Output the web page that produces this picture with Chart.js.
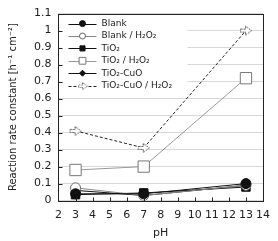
<!DOCTYPE html>
<html>
<head>
<meta charset="utf-8">
<script src="https://cdn.jsdelivr.net/npm/chart.js@4"></script>
<style>
  html, body { margin: 0; padding: 0; background: #fff; }
  #wrap { width: 278px; height: 241px; }
</style>
</head>
<body>
<div id="wrap"><canvas id="rateChart" width="278" height="241"></canvas></div>
<script>
const phValues = [3, 7, 13];
const seriesNames = ['Blank', 'Blank / H₂O₂', 'TiO₂', 'TiO₂ / H₂O₂', 'TiO₂-CuO', 'TiO₂-CuO / H₂O₂'];
const blank = [0.04, 0.04, 0.10];
const blankH2O2 = [0.075, 0.03, 0.09];
const tio2 = [0.035, 0.045, 0.08];
const tio2H2O2 = [0.18, 0.20, 0.72];
const tio2CuO = [0.06, 0.03, 0.09];
const tio2CuOH2O2 = [0.41, 0.31, 1.0];
const xTicks = [2, 3, 4, 5, 6, 7, 8, 9, 10, 11, 12, 13, 14];
const yTicks = [0, 0.1, 0.2, 0.3, 0.4, 0.5, 0.6, 0.7, 0.8, 0.9, 1, 1.1];

const pts = vals => vals.map((v, i) => ({ x: phValues[i], y: v }));

// hollow arrow marker for the last series
const arrow = document.createElement('canvas');
arrow.width = 14; arrow.height = 12;
(() => {
  const c = arrow.getContext('2d');
  c.fillStyle = '#fff';
  c.strokeStyle = '#555';
  c.lineWidth = 1;
  c.setLineDash([2, 1]);
  c.beginPath();
  c.moveTo(1.5, 4.5); c.lineTo(6.5, 4.5); c.lineTo(6.5, 1.5);
  c.lineTo(12.5, 6); c.lineTo(6.5, 10.5); c.lineTo(6.5, 7.5);
  c.lineTo(1.5, 7.5); c.closePath();
  c.fill(); c.stroke();
})();

const styles = [
  { line: '#111', fill: '#111', stroke: '#111', shape: 'circle', r: 5, dash: [] },
  { line: '#888', fill: '#fff', stroke: '#666', shape: 'circle', r: 5, dash: [] },
  { line: '#111', fill: '#111', stroke: '#111', shape: 'rect', r: 6, dash: [] },
  { line: '#999', fill: '#fff', stroke: '#777', shape: 'rect', r: 8, dash: [] },
  { line: '#111', fill: '#111', stroke: '#111', shape: 'rectRot', r: 4, dash: [] },
  { line: '#222', fill: '#fff', stroke: '#555', shape: arrow, r: 6, dash: [3, 2] }
];
const allValues = [blank, blankH2O2, tio2, tio2H2O2, tio2CuO, tio2CuOH2O2];

const datasets = allValues.map((vals, i) => ({
  label: seriesNames[i],
  data: pts(vals),
  borderColor: styles[i].line,
  borderWidth: 1,
  borderDash: styles[i].dash,
  pointStyle: styles[i].shape,
  pointRadius: styles[i].r,
  pointBackgroundColor: styles[i].fill,
  pointBorderColor: styles[i].stroke,
  pointBorderWidth: 1,
  tension: 0
}));

// legend inside the plot, drawn under the data
const legendPlugin = {
  id: 'innerLegend',
  beforeDatasetsDraw(chart) {
    const { ctx, chartArea: a } = chart;
    ctx.save();
    const x0 = a.left + 10, x1 = a.left + 38, xm = (x0 + x1) / 2;
    ctx.fillStyle = '#fff';
    ctx.fillRect(a.left + 1, a.top + 3, 128, 78);
    let y = a.top + 10;
    ctx.font = '9px "DejaVu Sans", Verdana, sans-serif';
    ctx.textBaseline = 'middle';
    chart.data.datasets.forEach(ds => {
      ctx.strokeStyle = ds.borderColor;
      ctx.lineWidth = 1;
      ctx.setLineDash(ds.borderDash);
      ctx.beginPath();
      ctx.moveTo(x0, Math.round(y) + 0.5);
      ctx.lineTo(x1, Math.round(y) + 0.5);
      ctx.stroke();
      ctx.setLineDash([]);
      if (ds.pointStyle instanceof HTMLCanvasElement) {
        ctx.drawImage(ds.pointStyle, xm - 5, y - 4, 11, 9);
      } else {
        ctx.fillStyle = ds.pointBackgroundColor;
        ctx.strokeStyle = ds.pointBorderColor;
        Chart.helpers.drawPoint(ctx, {
          pointStyle: ds.pointStyle,
          radius: Math.max(3, ds.pointRadius * 0.6),
          borderWidth: 1,
          rotation: 0
        }, xm, y);
      }
      ctx.fillStyle = '#222';
      ctx.fillText(ds.label, x1 + 5, y);
      y += 12.4;
    });
    ctx.restore();
  },
  afterDatasetsDraw(chart) {
    const { ctx, chartArea: a } = chart;
    ctx.save();
    ctx.strokeStyle = '#222';
    ctx.lineWidth = 1;
    const l = Math.round(a.left) + 0.5, t = Math.round(a.top) + 0.5;
    const r = Math.round(a.right) + 0.5, b = Math.round(a.bottom) + 0.5;
    ctx.strokeRect(l, t, r - l, b - t);
    const xs = chart.scales.x, ys = chart.scales.y;
    ctx.beginPath();
    xTicks.forEach(v => {
      const px = Math.round(xs.getPixelForValue(v)) + 0.5;
      ctx.moveTo(px, b); ctx.lineTo(px, b - 4);
    });
    yTicks.forEach(v => {
      const py = Math.round(ys.getPixelForValue(v)) + 0.5;
      ctx.moveTo(l, py); ctx.lineTo(l + 4, py);
    });
    ctx.stroke();
    ctx.restore();
  }
};

const tickFont = { size: 11, family: '"DejaVu Sans", Verdana, sans-serif' };

new Chart(document.getElementById('rateChart').getContext('2d'), {
  type: 'line',
  data: { datasets },
  options: {
    responsive: false,
    animation: false,
    layout: { padding: { top: 6, right: 11, left: 7, bottom: 0 } },
    plugins: { legend: { display: false }, tooltip: { enabled: false } },
    scales: {
      x: {
        type: 'linear',
        min: 2, max: 14,
        afterBuildTicks: s => { s.ticks = xTicks.map(v => ({ value: v })); },
        grid: { display: false, drawTicks: false },
        border: { display: false },
        ticks: { color: '#222', font: tickFont, padding: 8, maxRotation: 0, autoSkip: false },
        title: { display: true, text: 'pH', color: '#222', font: tickFont, padding: { top: -3, bottom: 1 } }
      },
      y: {
        min: 0, max: 1.1,
        afterBuildTicks: s => { s.ticks = yTicks.map(v => ({ value: v })); },
        grid: { color: '#d8d8d8', drawTicks: false },
        border: { display: false },
        ticks: { color: '#222', font: tickFont, padding: 7, autoSkip: false,
          callback: v => String(Math.round(v * 10) / 10) },
        title: { display: true, text: 'Reaction rate constant [h⁻¹ cm⁻²]', color: '#222',
          font: { size: 10, family: '"DejaVu Sans", Verdana, sans-serif' }, padding: { top: 0, bottom: 8 } }
      }
    }
  },
  plugins: [legendPlugin]
});
</script>
</body>
</html>
